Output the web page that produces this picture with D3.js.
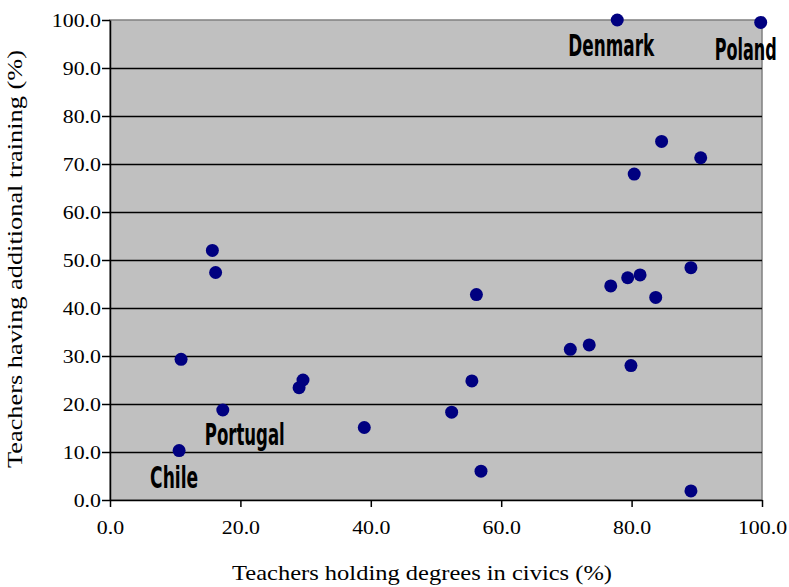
<!DOCTYPE html>
<html>
<head>
<meta charset="utf-8">
<script src="https://d3js.org/d3.v7.min.js"></script>
<style>
  body { margin: 0; background: #fff; }
</style>
</head>
<body>
<div id="chart"></div>
<script>
// teachers holding degrees in civics (%)
var degrees = [77.8, 99.8, 84.6, 90.6, 80.4, 89.1, 79.4, 81.3, 76.8, 83.7, 56.2,
               70.6, 73.5, 79.9, 55.5, 52.4, 56.9, 89.1, 15.7, 16.2, 10.9, 17.3,
               10.6, 29.0, 29.6, 39.0];
// teachers having additional training (%)
var training = [100.0, 99.5, 74.7, 71.3, 67.9, 48.4, 46.3, 46.9, 44.6, 42.2, 42.8,
                31.4, 32.3, 28.0, 24.8, 18.3, 6.0, 1.9, 52.0, 47.4, 29.3, 18.75,
                10.3, 23.4, 25.0, 15.1];
var labelNames = ["Denmark", "Poland", "Portugal", "Chile"];
var labelIdx = [0, 1, 21, 22];
var yTicks = [0, 10, 20, 30, 40, 50, 60, 70, 80, 90, 100];
var xTicks = [0, 20, 40, 60, 80, 100];

var serif = '"Liberation Serif", "DejaVu Serif", serif';
var margin = {top: 20, right: 27, bottom: 87, left: 110},
    width = 789 - margin.left - margin.right,
    height = 587 - margin.top - margin.bottom;

var svg = d3.select("#chart").append("svg")
    .attr("width", 789).attr("height", 587)
  .append("g")
    .attr("transform", "translate(" + margin.left + "," + margin.top + ")");

var x = d3.scaleLinear().domain([0, 100]).range([0, width]);
var y = d3.scaleLinear().domain([0, 100]).range([height, 0]);

// plot background
svg.append("rect")
    .attr("width", width).attr("height", height)
    .attr("fill", "#c0c0c0")
    .attr("stroke", "#808080").attr("stroke-width", 1.5);

// gridlines
svg.append("g")
    .call(d3.axisLeft(y).tickValues(yTicks.slice(1, -1)).tickSize(-width).tickFormat(""))
    .call(function(g) { g.select(".domain").remove(); })
    .selectAll("line").attr("stroke", "#000").attr("stroke-width", 1.5);

// stretch the tick text a bit wider, like the original
function wideText(sel) {
  sel.attr("font-family", null).style("font-family", serif).style("font-size", "19px").attr("fill", "#000")
    .each(function() {
      var w = this.getComputedTextLength();
      d3.select(this).attr("textLength", w * 1.15).attr("lengthAdjust", "spacingAndGlyphs");
    });
}

var fmt = d3.format(".1f");
svg.append("g")
    .call(d3.axisLeft(y).tickValues(yTicks).tickFormat(fmt).tickSize(8).tickSizeOuter(0).tickPadding(1))
    .attr("font-family", serif)
    .call(function(g) { g.selectAll("line, path").attr("stroke", "#000").attr("stroke-width", 1.5); })
    .selectAll("text").call(wideText);

svg.append("g")
    .attr("transform", "translate(0," + height + ")")
    .call(d3.axisBottom(x).tickValues(xTicks).tickFormat(fmt).tickSize(7).tickSizeOuter(0).tickPadding(14))
    .attr("font-family", serif)
    .call(function(g) { g.selectAll("line, path").attr("stroke", "#000").attr("stroke-width", 1.5); })
    .selectAll("text").call(wideText);

// points
svg.selectAll(".dot")
    .data(degrees)
  .enter().append("circle")
    .attr("class", "dot")
    .attr("cx", function(d) { return x(d); })
    .attr("cy", function(d, i) { return y(training[i]); })
    .attr("r", 6.5)
    .attr("fill", "#000080");

// country labels
var offs = [[-49, 36], [-46, 38], [-18, 35], [-29, 37]];
var lens = [86, 62, 80, 48];
svg.selectAll(".lbl")
    .data(labelNames)
  .enter().append("text")
    .attr("class", "lbl")
    .attr("x", function(d, i) { return x(degrees[labelIdx[i]]) + offs[i][0]; })
    .attr("y", function(d, i) { return y(training[labelIdx[i]]) + offs[i][1]; })
    .attr("textLength", function(d, i) { return lens[i]; })
    .attr("lengthAdjust", "spacingAndGlyphs")
    .style("font-family", '"DejaVu Sans Condensed", "Liberation Sans Narrow", sans-serif')
    .style("font-weight", "bold")
    .style("font-size", "30px")
    .text(function(d) { return d; });

// axis titles
svg.append("text")
    .attr("x", 122).attr("y", height + 80)
    .attr("textLength", 380).attr("lengthAdjust", "spacingAndGlyphs")
    .style("font-family", serif).style("font-size", "21px")
    .text("Teachers holding degrees in civics (%)");

svg.append("text")
    .attr("transform", "translate(" + (-88) + "," + (height + 20 - 52) + ") rotate(-90)")
    .attr("textLength", 418).attr("lengthAdjust", "spacingAndGlyphs")
    .style("font-family", serif).style("font-size", "21px")
    .text("Teachers having additional training (%)");
</script>
</body>
</html>
